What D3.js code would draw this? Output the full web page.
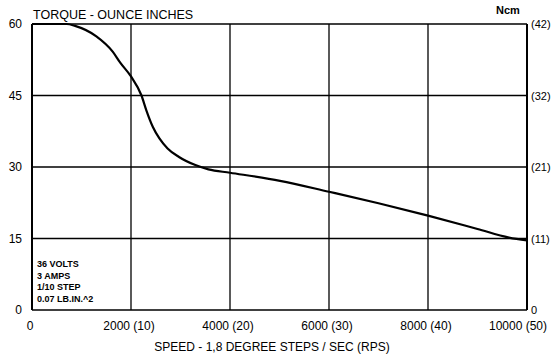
<!DOCTYPE html>
<html>
<head>
<meta charset="utf-8">
<script src="https://cdn.jsdelivr.net/npm/d3@7"></script>
<style>
  body { margin: 0; background: #fff; }
  text { font-family: "Liberation Sans", Arial, sans-serif; fill: #000; }
</style>
</head>
<body>
<script>
// speed in steps/sec, torque in oz-in
var speed  = [0, 700, 870, 1300, 1630, 1782, 2000, 2212, 2310, 2442, 2574, 2739, 2970, 3300, 3564, 4000, 5010, 6000, 7000, 8000, 9000, 9636, 10000];
var torque = [60, 60, 59.6, 57.4, 54.2, 51.9, 49.0, 45, 41.9, 38.4, 36, 33.9, 32.1, 30.4, 29.5, 28.8, 27.1, 24.8, 22.4, 19.8, 17, 15.2, 14.6];

var xTicks = [0, 2000, 4000, 6000, 8000, 10000];
var xTickLabels = ["0", "2000 (10)", "4000 (20)", "6000 (30)", "8000 (40)", "10000 (50)"];
var yTicks = [0, 15, 30, 45, 60];
var yRightLabels = ["0", "(11)", "(21)", "(32)", "(42)"];
var notes = ["36 VOLTS", "3 AMPS", "1/10 STEP", "0.07 LB.IN.^2"];

var w = 556, h = 358;
var pLeft = 32, pRight = 527, pTop = 24, pBottom = 310;

var svg = d3.select("body").append("svg")
    .attr("width", w)
    .attr("height", h);

var x = d3.scaleLinear().domain([0, 10000]).range([pLeft, pRight]);
var y = d3.scaleLinear().domain([0, 60]).range([pBottom, pTop]);

// grid
svg.selectAll("line.hgrid")
   .data(yTicks)
   .enter()
   .append("line")
   .attr("class", "hgrid")
   .attr("x1", pLeft).attr("x2", pRight)
   .attr("y1", function(d) { return y(d); })
   .attr("y2", function(d) { return y(d); })
   .attr("stroke", "#000")
   .attr("stroke-width", 1.3);

svg.selectAll("line.vgrid")
   .data(xTicks)
   .enter()
   .append("line")
   .attr("class", "vgrid")
   .attr("y1", pTop).attr("y2", pBottom)
   .attr("x1", function(d) { return x(d); })
   .attr("x2", function(d) { return x(d); })
   .attr("stroke", "#000")
   .attr("stroke-width", function(d, i) { return (i == 0 || i == xTicks.length - 1) ? 2 : 1.3; });

// curve
var line = d3.line()
    .x(function(d, i) { return x(speed[i]); })
    .y(function(d, i) { return y(torque[i]); })
    .curve(d3.curveMonotoneX);

svg.append("path")
   .datum(speed)
   .attr("d", line)
   .attr("fill", "none")
   .attr("stroke", "#000")
   .attr("stroke-width", 2.2);

// left labels
svg.selectAll("text.yl")
   .data(yTicks)
   .enter()
   .append("text")
   .attr("class", "yl")
   .text(function(d) { return d; })
   .attr("x", 22)
   .attr("y", function(d) { return y(d) + 4; })
   .attr("text-anchor", "end")
   .attr("font-size", "12px");

// right labels
svg.selectAll("text.yr")
   .data(yTicks)
   .enter()
   .append("text")
   .attr("class", "yr")
   .text(function(d, i) { return yRightLabels[i]; })
   .attr("x", 531)
   .attr("y", function(d) { return y(d) + 4; })
   .attr("font-size", "11px");

// bottom labels
svg.selectAll("text.xl")
   .data(xTicks)
   .enter()
   .append("text")
   .attr("class", "xl")
   .text(function(d, i) { return xTickLabels[i]; })
   .attr("x", function(d, i) { return i == xTicks.length - 1 ? x(d) - 9 : x(d) - 2; })
   .attr("y", 330)
   .attr("text-anchor", "middle")
   .attr("font-size", "12px");

svg.append("text")
   .text("SPEED - 1,8 DEGREE STEPS / SEC (RPS)")
   .attr("x", 272)
   .attr("y", 351)
   .attr("text-anchor", "middle")
   .attr("font-size", "12px");

svg.append("text")
   .text("TORQUE - OUNCE INCHES")
   .attr("x", 33)
   .attr("y", 19)
   .attr("font-size", "12.5px");

svg.append("text")
   .text("Ncm")
   .attr("x", 496)
   .attr("y", 14)
   .attr("font-size", "11px")
   .attr("font-weight", "bold");

svg.selectAll("text.note")
   .data(notes)
   .enter()
   .append("text")
   .attr("class", "note")
   .text(function(d) { return d; })
   .attr("x", 37)
   .attr("y", function(d, i) { return 267 + i * 11.7; })
   .attr("font-size", "9px")
   .attr("font-weight", "bold");
</script>
</body>
</html>
